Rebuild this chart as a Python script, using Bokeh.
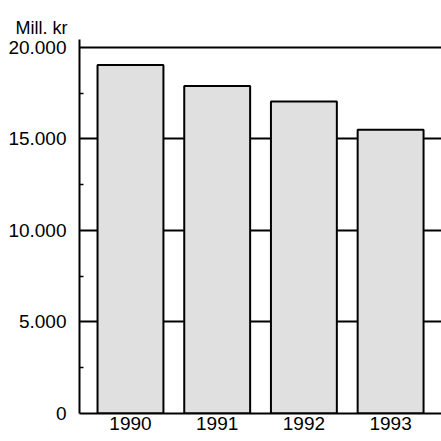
from bokeh.plotting import figure
from bokeh.models import Range1d, FixedTicker
from bokeh.embed import file_html
from bokeh.resources import INLINE

years = ["1990", "1991", "1992", "1993"]
values = [19050, 17900, 17050, 15500]
y_ticks = [0, 5000, 10000, 15000, 20000]
y_tick_labels = ["0", "5.000", "10.000", "15.000", "20.000"]
y_minor = [2500, 7500, 12500, 17500]
unit_label = "Mill. kr"

FONT = "Liberation Sans"

xs = list(range(len(years)))

p = figure(width=441, height=441, output_backend="svg", toolbar_location=None,
           x_range=Range1d(-0.588, 3.587), y_range=Range1d(0, 20437),
           min_border_left=79, min_border_right=0, min_border_top=39, min_border_bottom=28,
           title=unit_label)
p.outline_line_color = None
p.background_fill_color = "white"
p.border_fill_color = "white"

p.title.align = "left"
p.title.offset = -64
p.title.standoff = 4
p.title.text_font = FONT
p.title.text_font_size = "18px"
p.title.text_font_style = "normal"
p.title.text_color = "black"

p.vbar(x=xs, top=values, width=0.76, bottom=0, fill_color="#e0e0e0",
       line_color="black", line_width=2)

p.xgrid.visible = False
p.ygrid.ticker = FixedTicker(ticks=y_ticks[1:])
p.ygrid.grid_line_color = "black"
p.ygrid.grid_line_width = 2

p.yaxis.ticker = FixedTicker(ticks=y_ticks, minor_ticks=y_minor)
p.yaxis.major_label_overrides = {t: l for t, l in zip(y_ticks, y_tick_labels)}
p.yaxis.axis_line_color = "black"
p.yaxis.axis_line_width = 2
p.yaxis.major_tick_in = 0
p.yaxis.major_tick_out = 0
p.yaxis.minor_tick_in = 4
p.yaxis.minor_tick_out = 0
p.yaxis.minor_tick_line_color = "black"
p.yaxis.minor_tick_line_width = 1.5
p.yaxis.major_label_standoff = 13
p.yaxis.major_label_text_font = FONT
p.yaxis.major_label_text_font_size = "19px"
p.yaxis.major_label_text_color = "black"

p.xaxis.ticker = FixedTicker(ticks=xs)
p.xaxis.major_label_overrides = {i: y for i, y in enumerate(years)}
p.xaxis.axis_line_color = "black"
p.xaxis.axis_line_width = 2
p.xaxis.major_tick_in = 0
p.xaxis.major_tick_out = 0
p.xaxis.minor_tick_line_color = None
p.xaxis.major_label_standoff = 3
p.xaxis.major_label_text_font = FONT
p.xaxis.major_label_text_font_size = "19px"
p.xaxis.major_label_text_color = "black"

open("out.html", "w").write(file_html(p, INLINE))
